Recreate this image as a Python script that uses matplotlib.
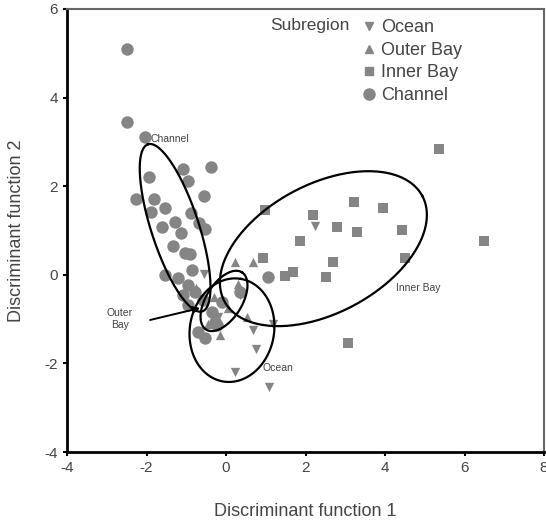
import numpy as np
import matplotlib
matplotlib.use('Agg')
import matplotlib.pyplot as plt
from matplotlib.lines import Line2D

plt.rcParams['font.family'] = ['Liberation Sans', 'DejaVu Sans']
plt.rcParams['axes.unicode_minus'] = False

# discriminant scores
ocean_x = [-0.55, 2.24, 1.19, 0.69, 0.75, 0.23, 1.09, 0.35, -0.20]
ocean_y = [0.01, 1.10, -1.10, -1.25, -1.68, -2.19, -2.54, -0.45, -0.95]

outer_x = [0.23, 0.69, 0.52, -0.30, -0.45, 0.05, -0.15, 0.30, -0.75]
outer_y = [0.30, 0.30, -0.95, -0.50, -1.10, -0.75, -1.35, -0.20, -0.30]

inner_x = [5.36, 3.22, 3.94, 2.20, 0.98, 2.78, 3.29, 4.42, 6.49, 1.86, 2.70,
           4.50, 0.94, 1.68, 1.48, 2.52, 3.08]
inner_y = [2.83, 1.64, 1.51, 1.34, 1.46, 1.08, 0.96, 1.02, 0.76, 0.76, 0.30,
           0.37, 0.37, 0.07, -0.03, -0.06, -1.55]

channel_x = [-2.50, -2.50, -2.05, -1.94, -1.07, -0.38, -0.95, -2.26, -1.80, -0.55,
             -1.89, -1.53, -0.88, -1.28, -0.67, -0.52, -1.62, -1.14, -1.34, -1.03,
             -0.91, -1.53, -1.21, -0.96, -0.86, -1.08, -0.78, -0.96, -0.58, -0.35,
             -0.28, -0.70, -0.53, -0.10, 1.06, 0.35, -0.23]
channel_y = [5.10, 3.45, 3.10, 2.21, 2.38, 2.44, 2.12, 1.70, 1.70, 1.78,
             1.42, 1.51, 1.39, 1.20, 1.16, 1.03, 1.09, 0.94, 0.65, 0.50,
             0.47, 0.00, -0.07, -0.23, 0.11, -0.46, -0.39, -0.68, -0.57, -0.84,
             -1.07, -1.29, -1.43, -0.61, -0.04, -0.38, -1.13]

# group ellipses: centre, semi-axes (x units), tilt in degrees
ell_name = ['Channel', 'Inner Bay', 'Ocean', 'Outer Bay']
ell_cx = [-1.28, 2.45, 0.15, -0.05]
ell_cy = [1.06, 0.59, -1.25, -0.59]
ell_a = [2.21, 2.82, 1.31, 0.85]
ell_b = [0.60, 1.62, 1.06, 0.45]
ell_ang = [108, 28, 80, 58]

W, H = 546, 521
fig = plt.figure(figsize=(W / 100, H / 100), dpi=100)
fig.patch.set_facecolor('white')
ax = fig.add_axes([67 / W, 1 - 452 / H, 477 / W, 443 / H])
ax.set_xlim(-4, 8)
ax.set_ylim(-4, 6)

gray = '#858585'
ax.scatter(channel_x, channel_y, s=80, marker='o', color=gray, lw=0, zorder=2)
ax.scatter(inner_x, inner_y, s=45, marker='s', color=gray, lw=0, zorder=2)
ax.scatter(outer_x, outer_y, s=45, marker='^', color=gray, lw=0, zorder=2)
ax.scatter(ocean_x, ocean_y, s=45, marker='v', color=gray, lw=0, zorder=2)

# ellipses drawn in screen proportions
px_x = 477 / 12.0
px_y = 443 / 10.0
t = np.linspace(0, 2 * np.pi, 300)
for cx, cy, a, b, ang in zip(ell_cx, ell_cy, ell_a, ell_b, ell_ang):
    th = np.deg2rad(ang)
    u = a * np.cos(t)
    v = b * np.sin(t)
    ex = cx + u * np.cos(th) - v * np.sin(th)
    ey = cy + (u * np.sin(th) + v * np.cos(th)) * px_x / px_y
    ax.plot(ex, ey, color='black', lw=1.6, zorder=3)

lab_kw = dict(fontsize=7.5, color='#444444', ha='center', va='center', zorder=4)
ax.text(-1.41, 3.07, 'Channel', **lab_kw)
ax.text(4.83, -0.30, 'Inner Bay', **lab_kw)
ax.text(1.31, -2.10, 'Ocean', **lab_kw)
ax.text(-2.67, -1.00, 'Outer\nBay', **lab_kw)
ax.annotate('', xy=(-0.65, -0.75), xytext=(-1.91, -1.02),
            arrowprops=dict(arrowstyle='-|>', color='black', lw=1.4,
                            mutation_scale=10, shrinkA=0, shrinkB=0), zorder=4)

# legend
ax.text(0.593, 0.962, 'Subregion', transform=ax.transAxes, fontsize=12.5,
        color='#444444', va='center', ha='right')
handles = [Line2D([], [], ls='none', marker='v', color=gray, ms=6),
           Line2D([], [], ls='none', marker='^', color=gray, ms=6),
           Line2D([], [], ls='none', marker='s', color=gray, ms=6),
           Line2D([], [], ls='none', marker='o', color=gray, ms=8)]
leg = ax.legend(handles, ['Ocean', 'Outer Bay', 'Inner Bay', 'Channel'],
                loc='upper left', bbox_to_anchor=(0.612, 0.985), frameon=False,
                fontsize=13, handlelength=0.7, handletextpad=0.35,
                labelspacing=0.31, borderpad=0.2, borderaxespad=0)
for txt in leg.get_texts():
    txt.set_color('#444444')

ax.set_xticks(np.arange(-4, 9, 2))
ax.set_yticks(np.arange(-4, 7, 2))
ax.tick_params(length=3, width=1.5, colors='black', labelcolor='#444444',
               labelsize=11, direction='out')
ax.spines['left'].set_linewidth(2)
ax.spines['bottom'].set_linewidth(2)
ax.spines['top'].set_linewidth(1.5)
ax.spines['right'].set_linewidth(1.5)
ax.spines['top'].set_color('#666666')
ax.spines['right'].set_color('#666666')
ax.set_xlabel('Discriminant function 1', fontsize=13, color='#444444', labelpad=20)
ax.set_ylabel('Discriminant function 2', fontsize=13, color='#444444', labelpad=14)

fig.savefig('out.png', dpi=100)
